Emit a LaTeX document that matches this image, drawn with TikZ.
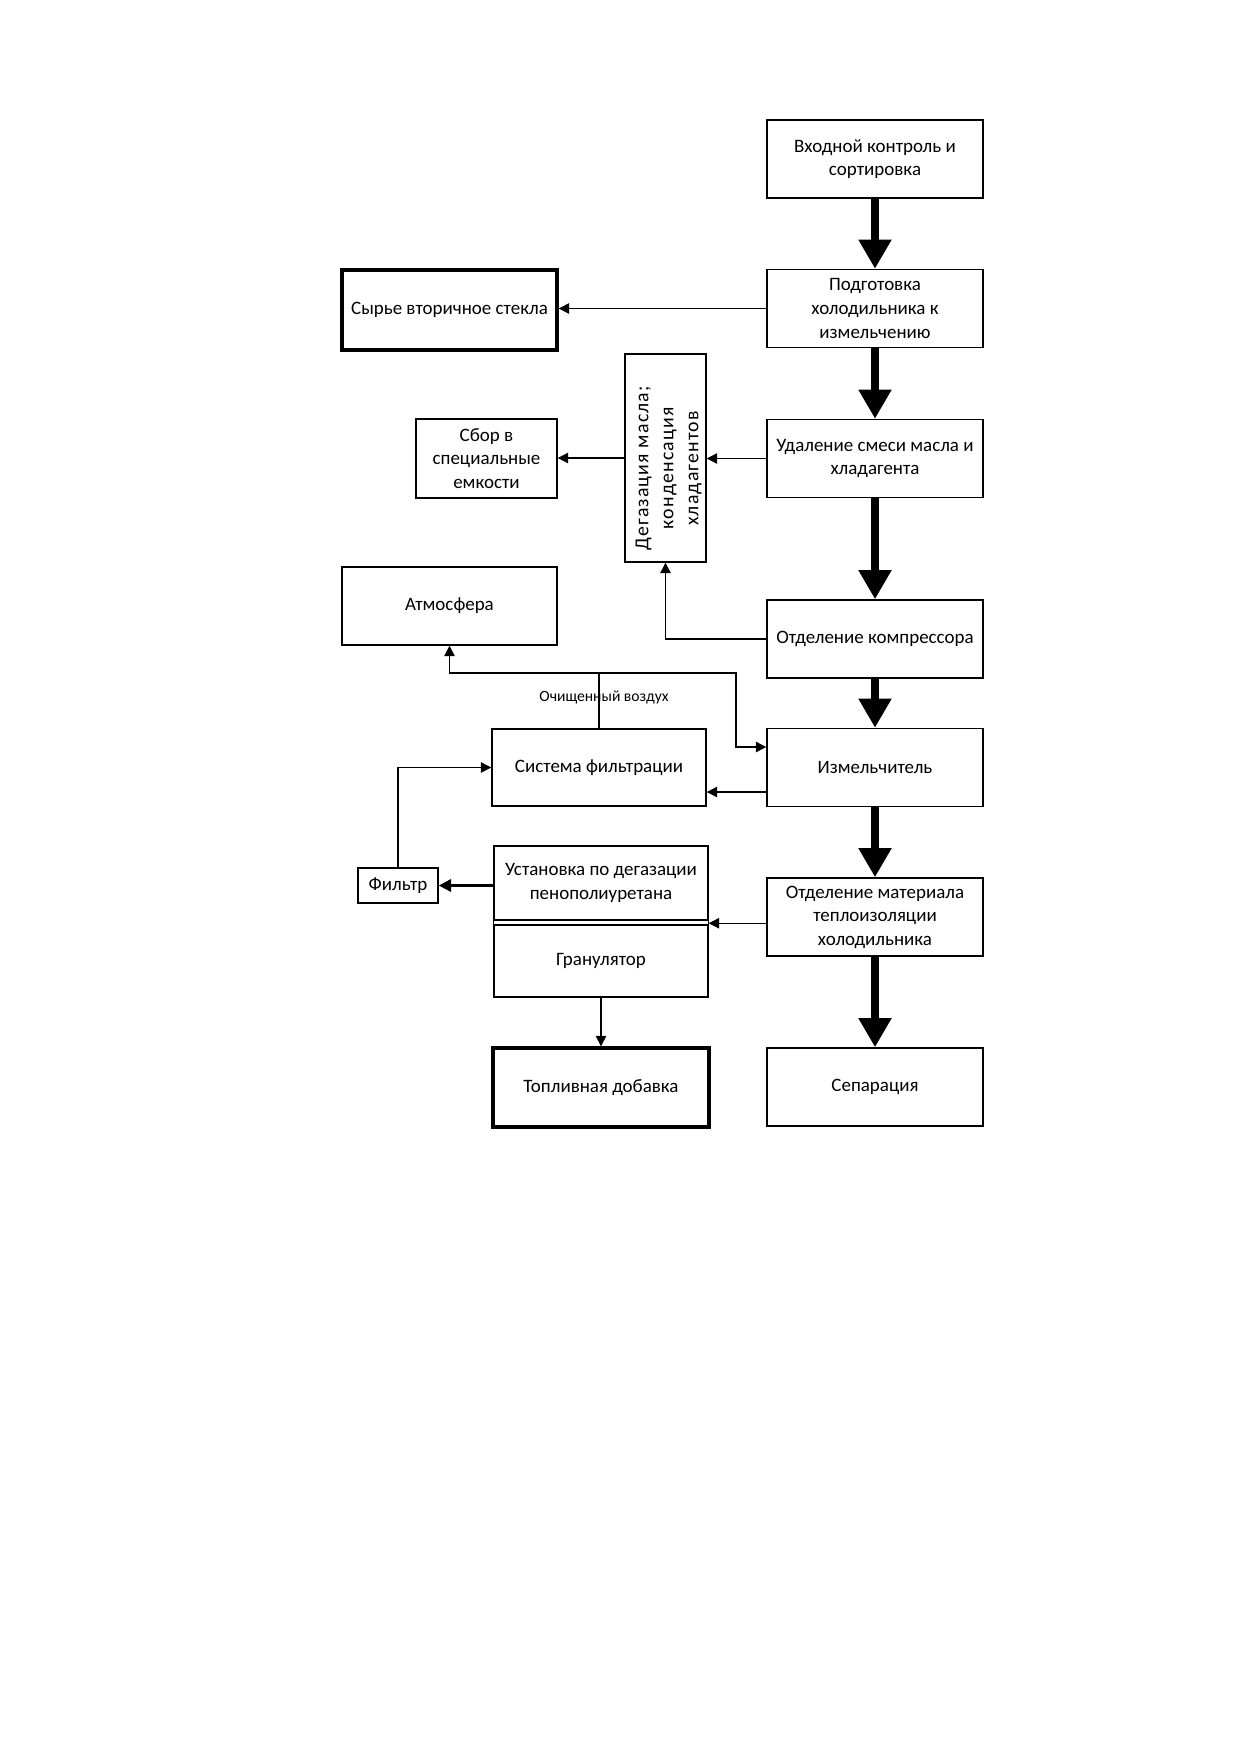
\documentclass[tikz,border=0pt]{standalone}
\usepackage{fontspec}
\setmainfont{Carlito}
\usetikzlibrary{arrows.meta}
\begin{document}
\begin{tikzpicture}[x=0.48pt,y=-0.48pt,
  box/.style={draw, line width=0.7pt, align=center, font=\fontsize{9.1}{11.3}\selectfont, inner sep=2pt},
  thickbox/.style={box, line width=1.6pt},
  wh/.style 2 args={minimum width=#1*0.48pt, minimum height=#2*0.48pt},
  bigarrow/.style={line width=4.3pt, -{Triangle[width=15pt,length=14pt]}},
  thinarrow/.style={line width=0.6pt, -{Triangle[width=5pt,length=5pt]}},
  thinline/.style={line width=0.6pt},
  lbl/.style={font=\fontsize{7.5}{9}\selectfont, inner sep=1pt},
]
\useasboundingbox (0,0) rectangle (1240,1754);

% right column
\node[box, wh={216}{78}] (b1) at (875,159) {Входной контроль и\\сортировка};
\node[box, wh={216}{78}] (b2) at (875,308.5) {Подготовка\\холодильника к\\измельчению};
\node[box, wh={216}{78}] (b3) at (875,458.5) {Удаление смеси масла и\\хладагента};
\node[box, wh={216}{78}] (b4) at (875,639) {Отделение компрессора};
\node[box, wh={216}{78}] (b5) at (875,767.5) {Измельчитель};
\node[box, wh={216}{78}] (b6) at (875,917) {Отделение материала\\теплоизоляции\\холодильника};
\node[box, wh={216}{78}] (b7) at (875,1087) {Сепарация};

% left side
\node[thickbox, wh={215}{80}] (syr) at (449.5,310) {Сырье вторичное стекла};
\node[box, wh={141}{79}] (sbor) at (486.5,458.5) {Сбор в\\специальные\\емкости};
\node[box, wh={81}{208}] (deg) at (665.5,458) {};
\node[rotate=90, align=center, font=\fontsize{9.5}{12}\selectfont\addfontfeatures{LetterSpace=6}, inner sep=0pt] (degtext) at ([xshift=1.5pt,yshift=-5pt]deg.center) {Дегазация масла;\\конденсация\\хладагентов};
\node[box, wh={215}{78}] (atm) at (449.5,606) {Атмосфера};
\node[box, wh={214}{77}] (sys) at (599,767.5) {Система фильтрации};
\node[box, wh={80}{35}] (filt) at (398,885.5) {Фильтр};
\node[box, wh={214}{74}] (ust) at (601,883) {Установка по дегазации\\пенополиуретана};
\node[box, wh={214}{72}] (gran) at (601,961) {Гранулятор};
\node[thickbox, wh={216}{79}] (topl) at (601,1087.5) {Топливная добавка};
\draw[line width=0.7pt] (ust.south west) -- (gran.north west) (ust.south east) -- (gran.north east);

% main flow
\draw[bigarrow] (b1.south) -- (b2.north);
\draw[bigarrow] (b2.south) -- (b3.north);
\draw[bigarrow] (b3.south) -- (b4.north);
\draw[bigarrow] (b4.south) -- (b5.north);
\draw[bigarrow] (b5.south) -- (b6.north);
\draw[bigarrow] (b6.south) -- (b7.north);

% side connectors
\draw[thinarrow] (b2.west) -- (b2.west -| syr.east);
\draw[thinarrow] (b3.west) -- (b3.west -| deg.east);
\draw[thinarrow] (deg.west) -- (deg.west -| sbor.east);
\draw[thinarrow] (b4.west) -| (deg.south);

\path (b5.west) ++(0,24.5) coordinate (p5);
\path (b5.west) ++(0,-20.5) coordinate (p5b);
\coordinate (airR) at (736,673);
\draw[thinarrow] (p5) -- (p5 -| sys.east);
\draw[thinline] (sys.north) -- (sys.north |- airR);
\draw[thinarrow] (sys.north |- airR) -| (atm.south);
\draw[thinarrow] (sys.north |- airR) -- (airR) |- (p5b);
\node[lbl] (air) at (604,697) {Очищенный воздух};

\draw[thinarrow] (filt.north) |- (sys.west);
\draw[line width=1.2pt, -{Triangle[width=6pt,length=6pt]}] (filt.east -| ust.west) -- (filt.east);
\path (ust.south east) ++(0,2.5) coordinate (divE);
\draw[thinarrow] (divE -| b6.west) -- (divE);
\draw[thinarrow] (gran.south) -- (topl.north);
\end{tikzpicture}
\end{document}
